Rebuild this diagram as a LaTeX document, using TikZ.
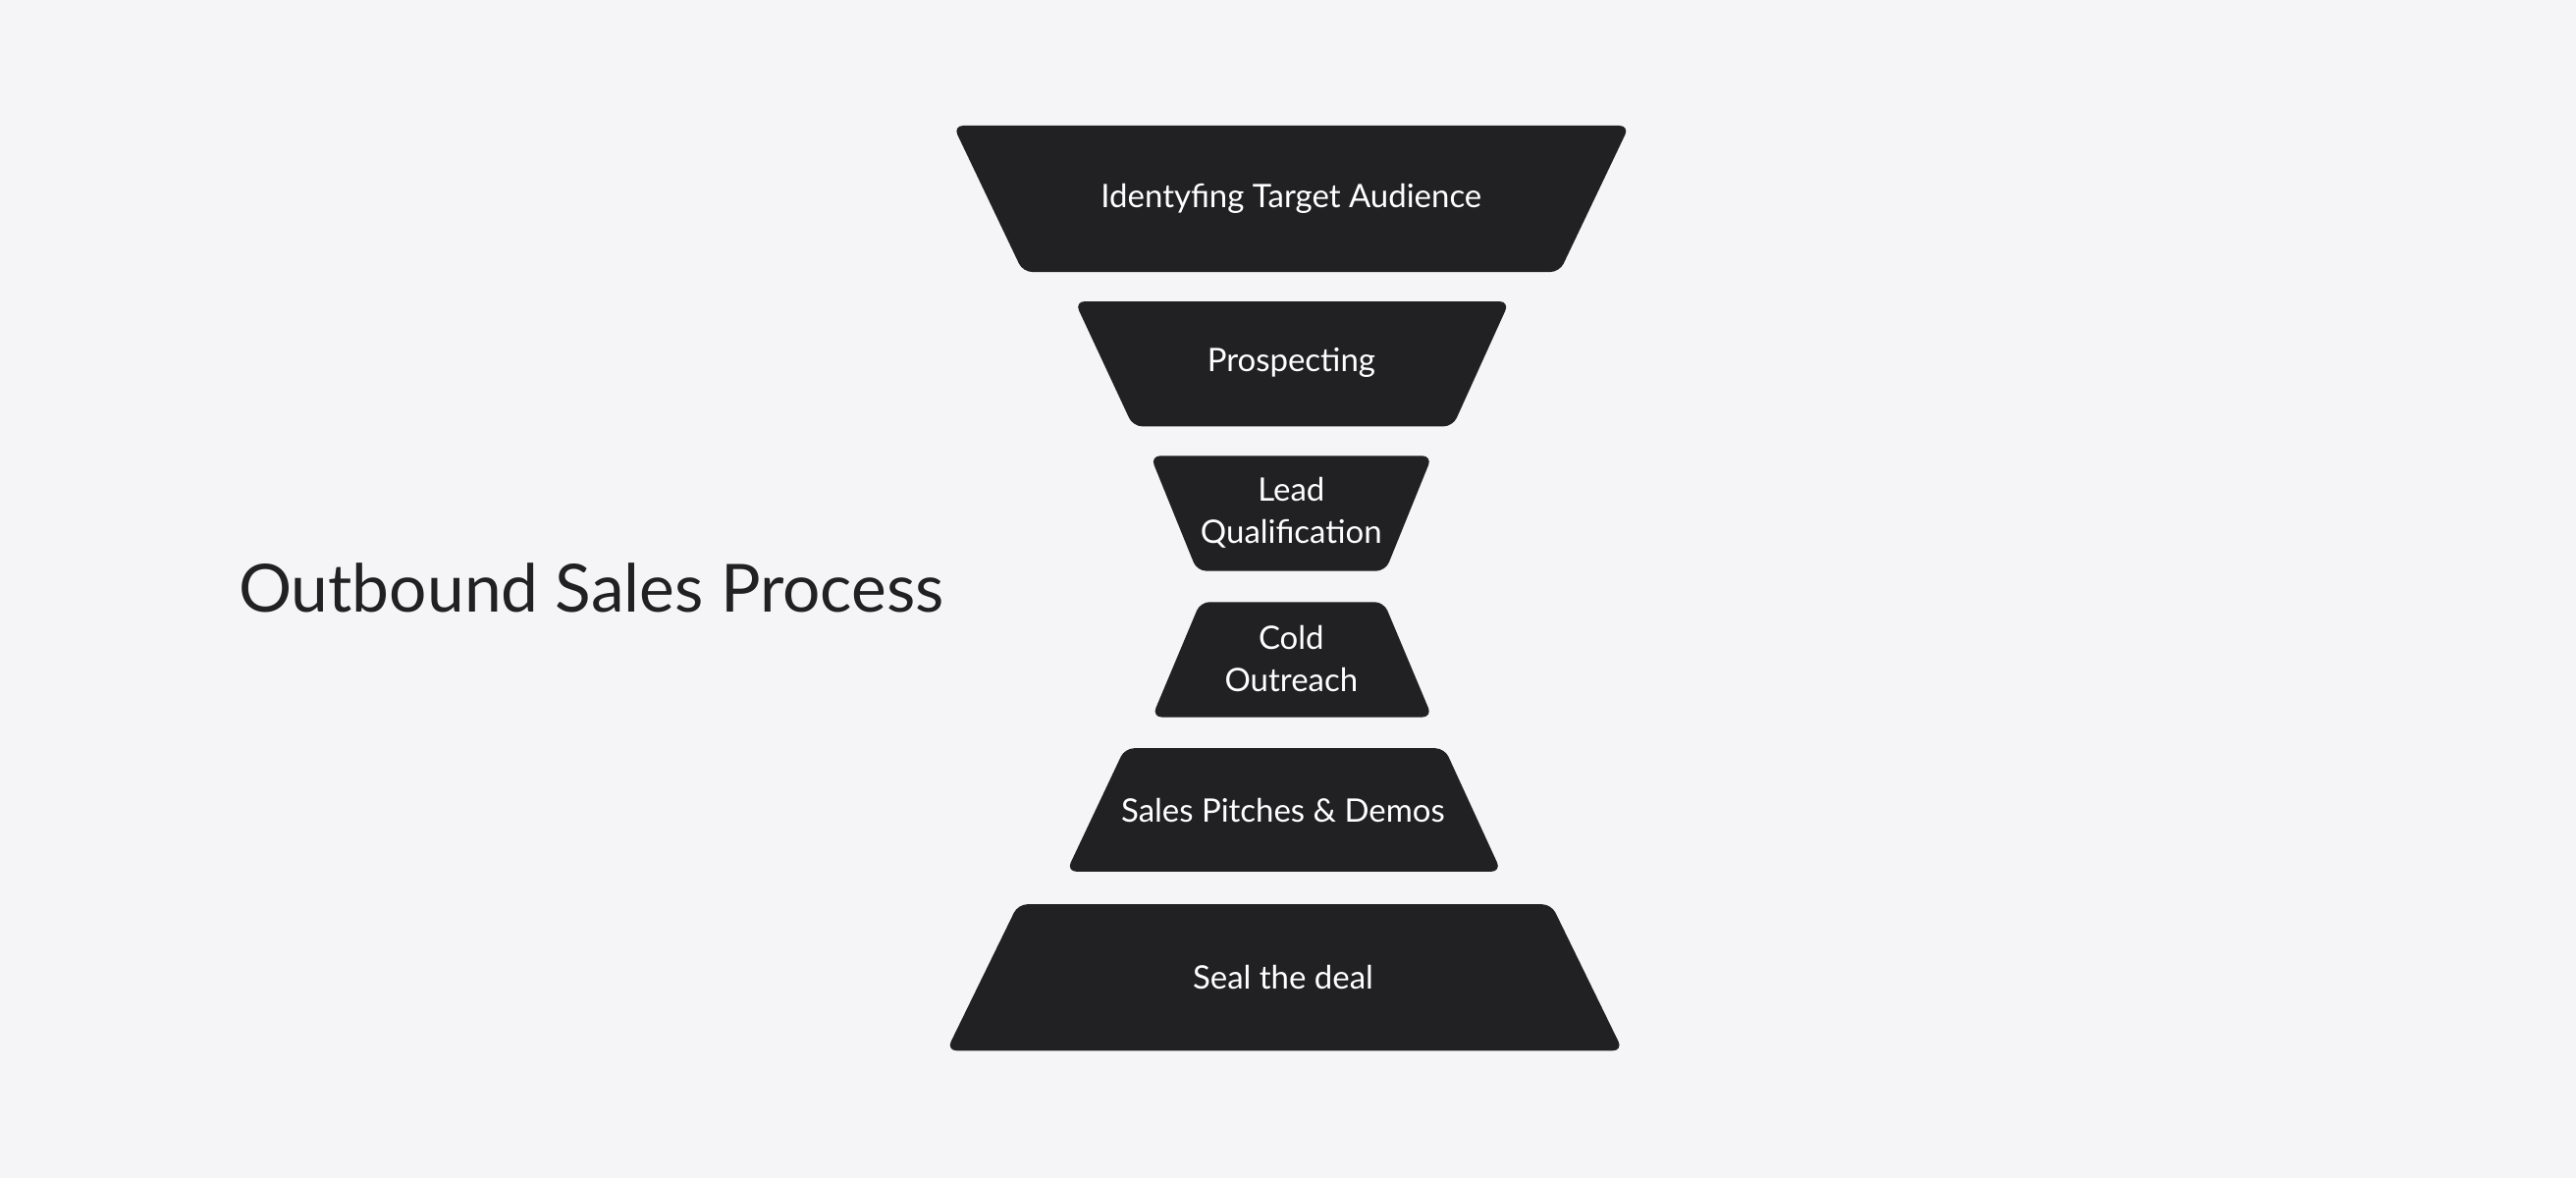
\documentclass[tikz,border=0pt]{standalone}
\usepackage{fontspec}
\setmainfont{Lato}
\definecolor{bg}{HTML}{F5F5F7}
\definecolor{fun}{HTML}{212023}
\begin{document}
\begin{tikzpicture}[x=0.01cm,y=-0.01cm,
  seg/.style={fill=fun,draw=fun,line width=0.3pt,rounded corners=1.5pt},
  lbl/.style={text=white,font=\fontsize{5.6pt}{7.2pt}\selectfont,align=center}]
\fill[bg] (0,0) rectangle (1568,717);
\useasboundingbox (0,0) rectangle (1568,717);
\draw[seg] (581,77) -- (991,77) -- (949,165) -- (623,165) -- cycle;
\node[lbl] (s1) at (786,121) {Identyfing Target Audience};
\draw[seg] (655,184) -- (918,184) -- (884,259) -- (690,259) -- cycle;
\node[lbl] (s2) at (786,221) {Prospecting};
\draw[seg] (701,278) -- (871,278) -- (843,347) -- (729,347) -- cycle;
\node[lbl] (s3) at (786,312) {Lead\\Qualification};
\draw[seg] (731,367) -- (842,367) -- (871,436) -- (702,436) -- cycle;
\node[lbl] (s4) at (786,401) {Cold\\Outreach};
\draw[seg] (685,456) -- (879,456) -- (913,530) -- (650,530) -- cycle;
\node[lbl] (s5) at (781,493) {Sales Pitches \& Demos};
\draw[seg] (620,551) -- (944,551) -- (987,639) -- (577,639) -- cycle;
\node[lbl] (s6) at (781,595) {Seal the deal};
\node[font=\fontsize{11.5pt}{14pt}\selectfont,text=fun] (title) at (360,358) {Outbound Sales Process};
\end{tikzpicture}
\end{document}
